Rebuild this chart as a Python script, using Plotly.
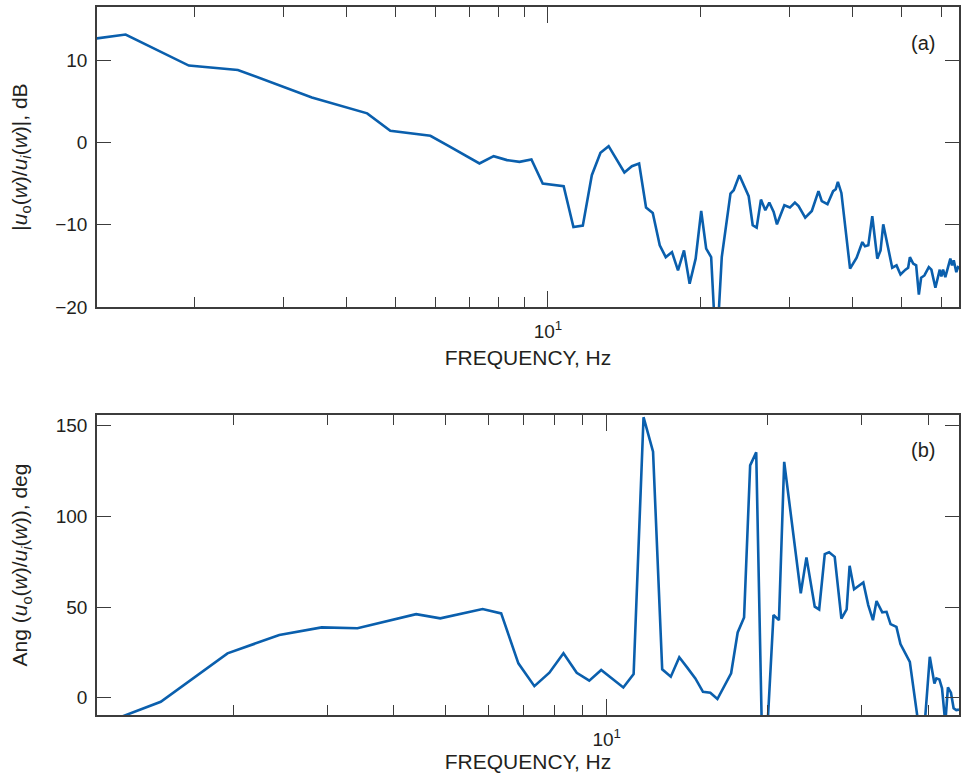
import plotly.graph_objects as go

# ---- data ----
mag_freq = [0.977, 1.465, 1.953, 2.441, 3.418, 4.395, 4.883, 5.859, 6.348, 6.836,
            7.324, 7.8125, 8.301, 8.789, 9.277, 9.766, 10.254, 10.742, 11.23, 11.72,
            12.21, 12.70, 13.18, 13.67, 14.16, 14.65, 15.14, 15.625, 16.11, 16.63,
            17.09, 17.58, 18.07, 18.57, 19.05, 19.58, 20.08, 20.54, 21.01, 21.51,
            22.05, 22.94, 23.28, 23.89, 24.92, 25.38, 25.84, 26.35, 26.88, 27.37,
            27.92, 28.34, 29.31, 30.06, 30.75, 31.27, 32.23, 33.21, 34.23, 34.75,
            35.66, 36.59, 37.03, 37.39, 37.99, 39.52, 40.72, 41.79, 42.30, 42.94,
            43.72, 44.73, 45.40, 45.96, 47.87, 48.82, 49.71, 50.85, 51.47, 51.88,
            52.66, 53.38, 54.04, 54.60, 55.42, 56.54, 57.21, 58.26, 59.43, 59.87,
            60.33, 60.95, 62.36, 62.84, 63.33, 64.08, 64.57, 65.5]
mag_db = [11.7, 13.15, 9.37, 8.84, 5.5, 3.56, 1.44, 0.83, -0.38, -1.52,
          -2.54, -1.65, -2.13, -2.34, -2.05, -4.98, -5.18, -5.30, -10.27, -10.10,
          -3.96, -1.24, -0.43, -2.07, -3.63, -2.87, -2.54, -7.90, -8.56, -12.50,
          -13.93, -13.32, -15.55, -13.11, -17.17, -14.12, -8.32, -12.90, -13.93, -26.0,
          -13.93, -6.20, -5.79, -3.96, -6.52, -10.06, -10.34, -6.93, -8.23, -7.29,
          -8.44, -9.94, -7.62, -7.90, -7.29, -7.71, -9.12, -8.32, -5.91, -7.13,
          -7.50, -5.91, -5.67, -4.78, -6.12, -15.34, -14.00, -12.10, -12.62, -12.50,
          -8.96, -14.12, -13.11, -9.94, -15.22, -14.94, -16.04, -15.46, -15.22, -13.93,
          -14.73, -14.94, -18.48, -16.44, -16.16, -15.15, -15.46, -17.66, -15.46, -16.28,
          -15.46, -16.37, -14.12, -14.94, -14.33, -15.76, -15.15, -15.4]

ang_freq = [0.977, 1.465, 1.953, 2.441, 2.930, 3.418, 4.40, 4.883, 5.859, 6.348,
            6.836, 7.324, 7.8125, 8.301, 8.789, 9.277, 9.766, 10.254, 10.742, 11.23,
            11.72, 12.21, 12.70, 13.18, 13.67, 14.16, 14.65, 15.14, 15.625, 16.11,
            16.60, 17.09, 17.58, 18.07, 18.55, 19.04, 19.53, 20.02, 20.51, 21.0,
            21.48, 23.07, 23.64, 24.50, 24.97, 25.58, 26.06, 26.70, 27.48, 28.11,
            28.47, 29.02, 30.20, 30.85, 31.48, 31.97, 32.77, 33.38, 33.96, 34.83,
            35.44, 36.36, 36.90, 38.31, 38.98, 39.40, 40.21, 41.02, 41.37, 41.91,
            42.39, 42.99, 43.48, 44.05, 44.56, 45.07, 45.6]
ang_deg = [-22.0, -2.2, 24.5, 34.6, 38.8, 38.3, 46.1, 43.8, 48.9, 46.5,
           19.0, 6.4, 13.8, 24.5, 13.8, 9.4, 15.3, 10.5, 5.7, 13.1,
           154.7, 135.7, 15.7, 11.6, 22.3, 16.5, 10.7, 3.3, 2.8, -0.7,
           6.5, 13.5, 36.0, 44.3, 128.1, 135.3, -25.0, -12.0, 45.6, 42.8,
           130.1, 57.6, 77.4, 50.2, 48.7, 79.2, 80.2, 77.7, 43.6, 48.7,
           72.8, 59.8, 63.6, 51.1, 42.8, 53.3, 47.1, 47.4, 40.6, 39.1,
           29.6, 23.5, 19.8, -15.0, -25.0, -12.0, 22.6, 7.9, 10.7, 10.1,
           5.2, -14.0, 5.7, 2.8, -5.8, -6.8, -6.5]

minor_vals = [2, 3, 4, 5, 6, 7, 8, 9, 20, 30, 40, 50, 60]
major_vals = [10]
major_text = ["10<sup>1</sup>"]

# ---- styling ----
LINE = "#0A5FAD"
AX = "#3C3C3C"
TXT = "#231F20"
FONT = "Liberation Sans, Arial, Helvetica, sans-serif"
FS = 19
FT = 21

fig = go.Figure()
fig.add_trace(go.Scatter(x=mag_freq, y=mag_db, mode="lines",
                         line=dict(color=LINE, width=2.6), xaxis="x", yaxis="y",
                         showlegend=False, hoverinfo="skip"))
fig.add_trace(go.Scatter(x=ang_freq, y=ang_deg, mode="lines",
                         line=dict(color=LINE, width=2.6), xaxis="x2", yaxis="y2",
                         showlegend=False, hoverinfo="skip"))

H, W = 776, 961
mt, mb = 7, 61
ph = H - mt - mb


def frac(py):
    return (H - mb - py) / ph


def xaxis_style(standoff):
    return dict(type="log", showgrid=False, zeroline=False, showline=True,
                linecolor=AX, linewidth=1.5, mirror="ticks", ticks="inside",
                ticklen=16, tickwidth=1.2, tickcolor=AX,
                tickvals=major_vals, ticktext=major_text, ticklabelstandoff=6,
                tickfont=dict(family=FONT, size=FS, color=TXT),
                minor=dict(tickvals=minor_vals, ticks="inside", ticklen=10,
                           tickwidth=1.2, tickcolor=AX, showgrid=False),
                title=dict(text="FREQUENCY, Hz", font=dict(family=FONT, size=FT, color=TXT),
                           standoff=standoff))


ycommon = dict(showgrid=False, zeroline=False, showline=True, linecolor=AX,
               linewidth=1.5, mirror="ticks", ticks="inside", ticklen=14,
               tickwidth=1.2, tickcolor=AX,
               tickfont=dict(family=FONT, size=FS, color=TXT), ticklabelstandoff=4)

fig.update_layout(
    width=W, height=H, autosize=False,
    margin=dict(l=97, r=0, t=mt, b=mb),
    paper_bgcolor="white", plot_bgcolor="white",
    font=dict(family=FONT, size=FS, color=TXT),
    xaxis=dict(xaxis_style(10), range=[0.1093, 1.812], domain=[0, 1], anchor="y"),
    yaxis=dict(ycommon, range=[-20, 16.5], tickvals=[-20, -10, 0, 10],
               domain=[frac(307), frac(7)], anchor="x",
               title=dict(text="|<i>u</i><sub>o</sub>(<i>w</i>)/<i>u</i><sub><i>i</i></sub>(<i>w</i>)|, dB",
                          font=dict(family=FONT, size=FT, color=TXT), standoff=22)),
    xaxis2=dict(xaxis_style(6), range=[0.0466, 1.659], domain=[0, 1], anchor="y2"),
    yaxis2=dict(ycommon, range=[-9.5, 155.9], tickvals=[0, 50, 100, 150],
                domain=[frac(715), frac(415)], anchor="x2",
                title=dict(text="Ang (<i>u</i><sub>o</sub>(<i>w</i>)/<i>u</i><sub><i>i</i></sub>(<i>w</i>)), deg",
                           font=dict(family=FONT, size=FT, color=TXT), standoff=22)),
    annotations=[
        dict(text="(a)", xref="paper", yref="paper", x=(925 - 97) / (W - 97),
             y=frac(43), xanchor="center", yanchor="middle", showarrow=False,
             font=dict(family=FONT, size=20, color=TXT)),
        dict(text="(b)", xref="paper", yref="paper", x=(925 - 97) / (W - 97),
             y=frac(450), xanchor="center", yanchor="middle", showarrow=False,
             font=dict(family=FONT, size=20, color=TXT)),
    ],
)

fig.write_html("out.html", config={"displayModeBar": False},
               post_script="document.body.style.margin='0px';")
